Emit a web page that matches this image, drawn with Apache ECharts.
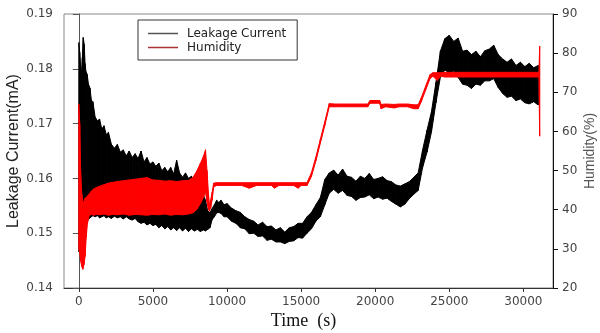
<!DOCTYPE html>
<html>
<head>
<meta charset="utf-8">
<script src="https://cdn.jsdelivr.net/npm/echarts@6/dist/echarts.min.js"></script>
<style>html,body{margin:0;padding:0;background:#fff}#c{width:600px;height:333px}</style>
</head>
<body>
<div id="c"></div>
<script>
// ---- Data ----
const xTicks = [0, 5000, 10000, 15000, 20000, 25000, 30000];
const leftTicks = [0.14, 0.15, 0.16, 0.17, 0.18, 0.19];
const rightTicks = [20, 30, 40, 50, 60, 70, 80, 90];

// Leakage current (mA): time (s), lower and upper edge of the noisy trace
const timeCur = [0,60,120,180,240,300,360,420,480,560,650,750,850,950,1100,1250,1400,1550,1700,1850,2000,2200,2400,2600,2800,3000,3200,3400,3600,3800,4000,4200,4400,4600,4800,5000,5200,5400,5600,5800,6000,6200,6400,6600,6800,7000,7200,7400,7600,7800,8000,8200,8400,8550,8700,8850,9000,9150,9300,9450,9600,9800,10000,10300,10600,10900,11200,11500,11800,12100,12400,12700,13000,13300,13600,13900,14200,14500,14800,15100,15400,15700,16000,16300,16600,16900,17200,17500,17800,18100,18400,18700,19000,19300,19600,19900,20200,20500,20800,21100,21400,21700,22000,22300,22600,22900,23200,23500,23800,24100,24400,24700,25000,25300,25600,25900,26200,26500,26800,27100,27400,27700,28000,28300,28600,28900,29200,29500,29800,30100,30400,30700,31000];
const curHigh = [0.1848,0.1830,0.1805,0.1790,0.1820,0.1857,0.1845,0.1810,0.1795,0.1790,
  0.1772,0.1765,0.1742,0.1740,0.1712,0.1705,0.1708,0.1690,0.1696,0.1680,
  0.1684,0.1662,0.1655,0.1662,0.1648,0.1652,0.1641,0.1650,0.1638,0.1645,
  0.1636,0.1650,0.1630,0.1638,0.1626,0.1630,0.1622,0.1628,0.1614,0.1620,
  0.1612,0.1620,0.1608,0.1633,0.1610,0.1602,0.1610,0.1600,0.1604,0.1596,
  0.1590,0.1582,0.1570,0.1560,0.1540,0.1538,0.1545,0.1552,0.1560,0.1556,
  0.1560,0.1552,0.1554,0.1546,0.1541,0.1538,0.1530,0.1525,0.1522,0.1515,
  0.1520,0.1512,0.1513,0.1506,0.1510,0.1502,0.1510,0.1512,0.1518,0.1518,
  0.1530,0.1538,0.1552,0.1565,0.1598,0.1610,0.1615,0.1606,0.1617,0.1604,
  0.1602,0.1595,0.1604,0.1600,0.1609,0.1598,0.1600,0.1603,0.1596,0.1594,
  0.1588,0.1586,0.1590,0.1594,0.1602,0.1610,0.1652,0.1688,0.1722,0.1775,
  0.1832,0.1855,0.1861,0.1850,0.1856,0.1832,0.1834,0.1826,0.1832,0.1822,
  0.1833,0.1836,0.1843,0.1826,0.1818,0.1812,0.1818,0.1806,0.1812,0.1804,
  0.1810,0.1802,0.1806];
const curLow = [0.1466,0.1470,0.1490,0.1510,0.1500,0.1485,0.1495,0.1505,0.1515,0.1520,
  0.1525,0.1528,0.1530,0.1532,0.1530,0.1532,0.1528,0.1530,0.1532,0.1528,
  0.1530,0.1527,0.1531,0.1528,0.1530,0.1526,0.1530,0.1526,0.1524,0.1527,
  0.1521,0.1518,0.1520,0.1515,0.1518,0.1514,0.1516,0.1510,0.1514,0.1508,
  0.1512,0.1506,0.1510,0.1505,0.1510,0.1504,0.1509,0.1503,0.1508,0.1504,
  0.1507,0.1503,0.1506,0.1504,0.1507,0.1510,0.1525,0.1530,0.1537,0.1538,
  0.1536,0.1530,0.1530,0.1522,0.1518,0.1510,0.1508,0.1499,0.1500,0.1494,
  0.1495,0.1487,0.1489,0.1484,0.1484,0.1481,0.1485,0.1486,0.1492,0.1491,
  0.1500,0.1508,0.1522,0.1530,0.1552,0.1573,0.1580,0.1573,0.1578,0.1569,
  0.1567,0.1560,0.1565,0.1566,0.1570,0.1563,0.1566,0.1562,0.1564,0.1558,
  0.1553,0.1548,0.1553,0.1563,0.1571,0.1578,0.1620,0.1648,0.1685,0.1738,
  0.1785,0.1798,0.1792,0.1796,0.1784,0.1772,0.1770,0.1764,0.1772,0.1770,
  0.1778,0.1778,0.1782,0.1766,0.1755,0.1748,0.1750,0.1742,0.1745,0.1738,
  0.1736,0.1740,0.1734];

// Humidity (%): time (s), lower and upper edge of the trace
const timeHum = [0,60,120,200,270,350,420,500,580,700,850,1000,1200,1400,1700,2000,2300,2600,3000,3400,3800,4200,4600,5000,5400,5800,6200,6600,7000,7400,7700,7950,8200,8400,8550,8650,8750,8820,8900,9000,9100,9300,9600,10000,10500,11000,11500,12000,12500,13000,13200,13500,14000,14500,14800,15000,15400,15700,16000,16300,16600,16900,17300,18000,18600,19200,19500,19650,20300,20400,20700,21300,21600,22200,22600,22900,23100,23400,23700,23900,24200,24400,24700,25300,25900,26500,27100,27700,28300,28900,29500,30100,30700,31050,31100];
const humLow = [30,29,27,25.5,24.8,26,28,33,36.5,38.5,38.8,38.6,38.8,38.7,38.9,38.6,38.8,38.7,38.9,38.6,38.8,38.7,38.6,38.8,38.7,38.9,38.6,38.8,38.7,38.9,39.2,40,41.5,43,44.5,42,40,39.7,40.5,42.5,45.8,46.2,46.2,46.2,46.2,46.2,45.5,46.2,46.2,46.2,45.5,46.2,46.2,46.2,45.5,46.2,46.2,48.5,52.5,57,61.5,66.3,66.3,66.3,66.3,66.3,66.3,67.2,67.2,65.8,66.3,66.0,66.3,66.3,65.8,65.8,67.5,70.5,73.5,74.1,73.0,74.1,73.9,73.9,73.9,73.9,73.9,73.9,73.9,73.9,73.9,73.9,73.9,73.9,58.8];
const humHigh = [67,62,50,44,42,42,43,43,43.5,44,44.8,45.3,45.7,46,46.4,46.8,47,47.2,47.4,47.6,47.8,48,48.2,47.6,47.5,47.3,47.4,47.2,47.4,47.5,48.2,49.8,51.8,53.5,55.3,50,44,41.2,42.5,44.5,46.8,46.9,46.9,46.9,46.9,46.9,46.9,46.9,46.9,46.9,46.9,46.9,46.9,46.9,46.9,46.9,46.9,49.5,53.5,58,62.5,67.1,67.0,67.0,67.0,67.0,67.0,67.9,67.9,66.9,67.0,66.9,67.0,67.0,66.8,66.8,68.5,71.5,74.5,75.0,75.0,75.0,75.1,75.1,75.1,75.1,75.1,75.1,75.1,75.1,75.1,75.1,75.1,75.1,81.8];

// ---- Build library data from the arrays ----
const rows = (t, lo, hi) => t.map((x, i) => [x, lo[i], hi[i]]);
const curRows = rows(timeCur, curLow, curHigh);
const humRows = rows(timeHum, humLow, humHigh);

// band between lower and upper edges, each segment projected through the axes
function bandRenderer(color, data) {
  return function (params, api) {
    const i = params.dataIndex;
    const t0 = api.value(0), l0 = api.value(1), h0 = api.value(2);
    if (i >= data.length - 1) {
      const a = api.coord([t0, l0]), b = api.coord([t0, h0]);
      return {type: 'line', shape: {x1: a[0], y1: a[1], x2: b[0], y2: b[1]}, style: {stroke: color, lineWidth: 1}};
    }
    const nx = data[i + 1];
    const p1 = api.coord([t0, h0]), p2 = api.coord([nx[0], nx[2]]);
    const p3 = api.coord([nx[0], nx[1]]), p4 = api.coord([t0, l0]);
    return {
      type: 'polygon',
      shape: {points: [p1, p2, p3, p4]},
      style: {fill: color, stroke: color, lineWidth: 1}
    };
  };
}

const chart = echarts.init(document.getElementById('c'), null, {renderer: 'canvas'});
const tickFont = {fontFamily: 'DejaVu Sans', fontSize: 12, color: '#444'};

chart.setOption({
  animation: false,
  backgroundColor: '#fff',
  grid: {left: 64, right: 47, top: 14, bottom: 45, outerBoundsMode: 'none', containLabel: false,
         show: true, borderColor: '#888', borderWidth: 1, backgroundColor: 'transparent'},
  legend: {
    left: 138, top: 20, orient: 'vertical',
    data: [{name: 'Leakage Current', itemStyle: {color: '#555'}}, {name: 'Humidity', itemStyle: {color: '#a33'}}],
    icon: 'rect', itemWidth: 30, itemHeight: 1.5, itemGap: 1,
    padding: [7, 11, 6, 10],
    borderColor: '#333', borderWidth: 1,
    textStyle: {fontFamily: 'DejaVu Sans', fontSize: 12, color: '#222', lineHeight: 13, padding: [0, 0, 0, 4]}
  },
  xAxis: {
    type: 'value', min: -1000, max: 32000,
    name: 'Time  (s)', nameLocation: 'middle', nameGap: 24, nameMoveOverlap: false,
    nameTextStyle: {fontFamily: 'Liberation Serif', fontSize: 18, color: '#111', padding: [0, 10, 0, 0]},
    axisLine: {show: true, lineStyle: {color: '#333'}},
    axisTick: {show: true, customValues: xTicks, length: 4, lineStyle: {color: '#333'}},
    axisLabel: Object.assign({customValues: xTicks, margin: 8, formatter: v => String(v)}, tickFont),
    splitLine: {show: false}
  },
  yAxis: [{
    type: 'value', min: leftTicks[0], max: leftTicks[leftTicks.length - 1], interval: 0.01,
    name: 'Leakage Current(mA)', nameLocation: 'middle', nameRotate: 90, nameGap: 42, nameMoveOverlap: false,
    nameTextStyle: {fontFamily: 'Liberation Sans', fontSize: 16, color: '#222'},
    axisLine: {show: true, lineStyle: {color: '#555'}},
    axisTick: {show: true, length: 6, lineStyle: {color: '#555'}},
    axisLabel: Object.assign({margin: 11, formatter: v => v.toFixed(2)}, tickFont),
    splitLine: {show: false}
  }, {
    type: 'value', position: 'right', min: rightTicks[0], max: rightTicks[rightTicks.length - 1], interval: 10,
    name: 'Humidity(%)', nameLocation: 'middle', nameRotate: 90, nameGap: 30, nameMoveOverlap: false,
    nameTextStyle: {fontFamily: 'Liberation Sans', fontSize: 14, color: '#555'},
    axisLine: {show: true, lineStyle: {color: '#111'}},
    axisTick: {show: true, length: 5, lineStyle: {color: '#111'}},
    axisLabel: Object.assign({margin: 9}, tickFont),
    splitLine: {show: false}
  }],
  series: [{
    name: 'Leakage Current', type: 'custom', yAxisIndex: 0, clip: true,
    data: curRows, encode: {x: 0, y: [1, 2]}, itemStyle: {color: '#000'},
    renderItem: bandRenderer('#000', curRows)
  }, {
    name: 'Humidity', type: 'custom', yAxisIndex: 1, clip: true,
    data: humRows, encode: {x: 0, y: [1, 2]}, itemStyle: {color: '#f00'},
    renderItem: bandRenderer('#f00', humRows)
  }]
});
</script>
</body>
</html>
